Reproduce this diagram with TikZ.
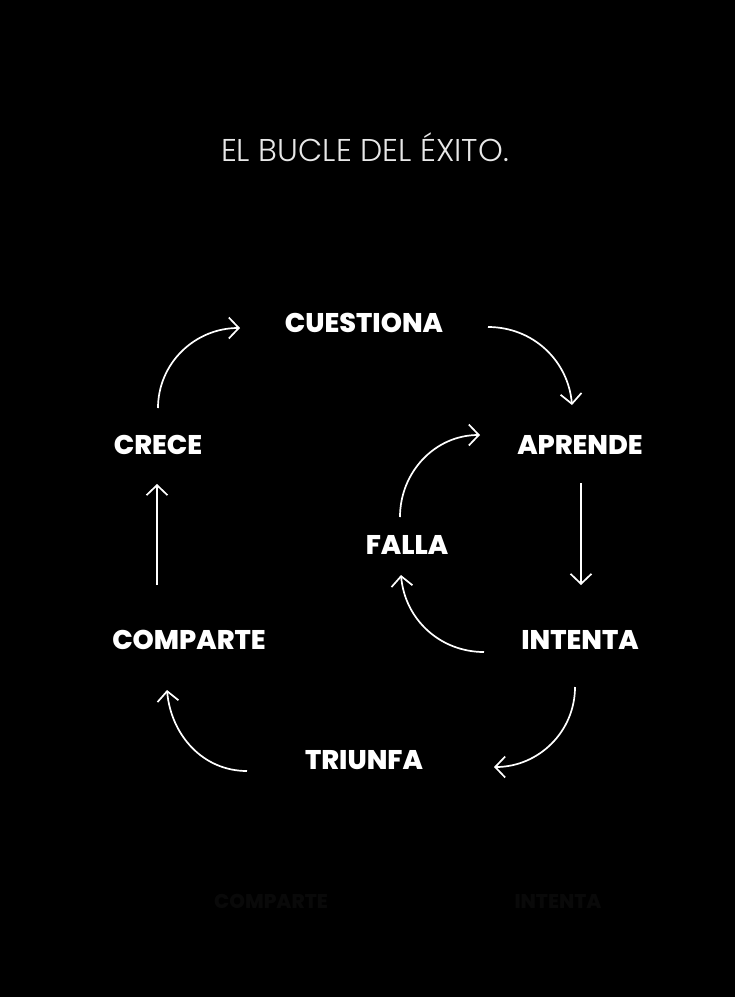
\documentclass[tikz,border=0pt]{standalone}
\usepackage{fontspec}
\setmainfont{Poppins}[BoldFont=* ExtraBold]
\newfontfamily\titlefont{Poppins}[UprightFont=* Light]
\usepackage{xcolor}
\usepackage{tikz}
\usetikzlibrary{positioning,calc,arrows.meta}
\definecolor{ghost}{RGB}{9,9,9}
\definecolor{titlegray}{RGB}{232,232,232}

\begin{document}
\begin{tikzpicture}[x=1pt,y=-1pt,
    word/.style={text=white,font=\fontsize{27}{27}\selectfont\bfseries,inner sep=0pt},
    ghostword/.style={word,text=ghost,font=\fontsize{20}{20}\selectfont\bfseries},
    loop arrow/.style={draw=white,line width=1.7pt,-{Straight Barb[length=10pt,width=21pt,line width=1.7pt]}}]
    \fill[black] (0,0) rectangle (735,997);
    \useasboundingbox (0,0) rectangle (735,997);
    \node[text=titlegray,font=\titlefont\fontsize{31.5}{31.5}\selectfont,inner sep=0pt] (title) at (365,147) {EL BUCLE DEL ÉXITO.};
    \node[word] (cuestiona) at (364,323) {CUESTIONA};
    \node[word] (crece) at (158,445) {CRECE};
    \node[word] (aprende) at (580,445) {APRENDE};
    \node[word] (falla) at (407,545) {FALLA};
    \node[word] (comparte) at (189,640) {COMPARTE};
    \node[word] (intenta) at (580,640) {INTENTA};
    \node[word] (triunfa) at (364,760) {TRIUNFA};
    % faint copies near the bottom
    \node[ghostword] (ghostcomparte) at (271,901) {COMPARTE};
    \node[ghostword] (ghostintenta) at (558,901) {INTENTA};
    % outer loop
    \draw[loop arrow] ([shift={(0,-37)}]crece.center) to[out=90,in=180] ([shift={(-124,5)}]cuestiona.center);
    \draw[loop arrow] ([shift={(124,4)}]cuestiona.center) to[out=0,in=95] ([shift={(-8,-40)}]aprende.center);
    \draw[loop arrow] ([shift={(1,38)}]aprende.center) -- ([shift={(1,-55)}]intenta.center);
    \draw[loop arrow] ([shift={(-5,47)}]intenta.center) to[out=270,in=0] ([shift={(130,7)}]triunfa.center);
    \draw[loop arrow] ([shift={(-117,11)}]triunfa.center) to[out=180,in=275] ([shift={(-22,50)}]comparte.center);
    \draw[loop arrow] ([shift={(-32,-55)}]comparte.center) -- ([shift={(-1,39)}]crece.center);
    % inner loop
    \draw[loop arrow] ([shift={(-96,12)}]intenta.center) to[out=180,in=275] ([shift={(-6,30)}]falla.center);
    \draw[loop arrow] ([shift={(-7,-28)}]falla.center) to[out=90,in=180] ([shift={(-100,-10)}]aprende.center);
\end{tikzpicture}
\end{document}
